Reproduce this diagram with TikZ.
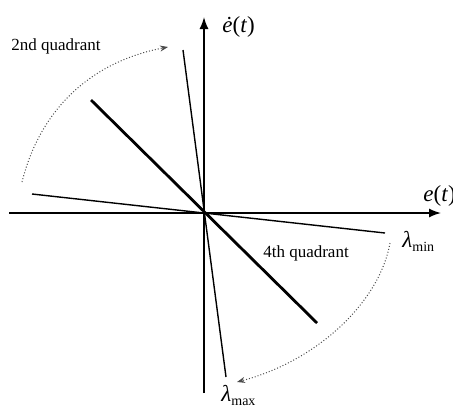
\documentclass[tikz,border=0pt]{standalone}
\usepackage{fontspec}
\setmainfont{Liberation Serif}
\usetikzlibrary{arrows.meta}

\begin{document}
\begin{tikzpicture}[
    x=0.5pt, y=-0.5pt,
    axis/.style={line width=0.75pt, -{Latex[length=6pt, width=4.5pt]}},
    ray/.style={line width=0.7pt},
    mainray/.style={line width=1.4pt},
    sweep/.style={densely dotted, line width=0.5pt, black!70, -{Stealth[length=4pt, width=3pt]}},
    txt/.style={font=\fontsize{8.5}{10}\selectfont, inner sep=0pt},
    lbl/.style={font=\fontsize{11.5}{13}\selectfont, inner sep=0pt}
]
\useasboundingbox (0,0) rectangle (453,408);

% axes
\coordinate (O) at (204,213);
\coordinate (xl) at (9,213);
\coordinate (xr) at (441,213);
\coordinate (yb) at (204,393);
\coordinate (yt) at (204,17);
\draw[axis] (xl) -- (xr);
\draw[axis] (yb) -- (yt);

% sliding lines
\coordinate (minL) at (32,194);
\coordinate (minR) at (385,233);
\coordinate (maxT) at (183,50);
\coordinate (maxB) at (226,377);
\coordinate (sT) at (91,100);
\coordinate (sB) at (317,323);
\draw[ray] (minL) -- (minR);
\draw[ray] (maxT) -- (maxB);
\draw[mainray] (sT) -- (sB);

% rotation arcs
\coordinate (a2s) at (22,182);
\coordinate (a2e) at (168,47);
\coordinate (a4s) at (390,243);
\coordinate (a4e) at (237,382);
\draw[sweep] (a2s) .. controls (40,110) and (90,62) .. (a2e);
\draw[sweep] (a4s) .. controls (380,300) and (320,360) .. (a4e);

% labels
\node[lbl, anchor=west] (edot) at (222,27) {\textit{\.e}(\textit{t})};
\node[lbl, anchor=west] (e) at (423,196) {\textit{e}(\textit{t})};
\node[txt] (q2) at (56,46) {2nd quadrant};
\node[txt] (q4) at (306,253) {4th quadrant};
\node[lbl, anchor=west] (lmin) at (402,241) {\textit{λ}{\fontsize{7}{8}\selectfont\raisebox{-2pt}{min}}};
\node[lbl, anchor=south west] (lmax) at (221,406) {\textit{λ}{\fontsize{7}{8}\selectfont\raisebox{-2pt}{max}}};
\end{tikzpicture}
\end{document}
